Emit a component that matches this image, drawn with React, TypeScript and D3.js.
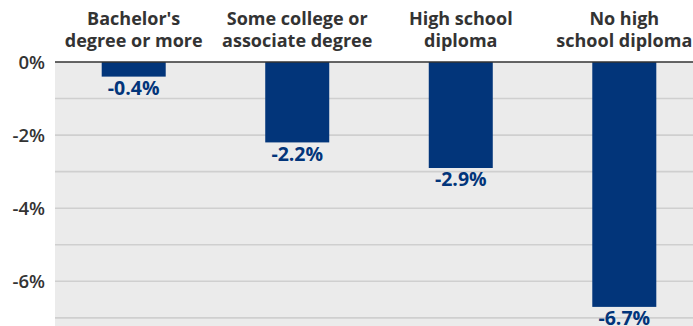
import React from "react";
import * as d3 from "d3";

const categories = [
  ["Bachelor's", "degree or more"],
  ["Some college or", "associate degree"],
  ["High school", "diploma"],
  ["No high", "school diploma"],
];
const values = [-0.4, -2.2, -2.9, -6.7];
const gridTicks = [0, -1, -2, -3, -4, -5, -6, -7];
const labeledTicks = [0, -2, -4, -6];

const W = 693;
const H = 326;
const FONT = "'Open Sans', 'Noto Sans', sans-serif";

export default function App() {
  const keys = categories.map((c) => c.join(" "));
  const x = d3
    .scaleBand<string>()
    .domain(keys)
    .range([55, 703])
    .paddingInner(0.6086)
    .paddingOuter(0.2856);
  const y = d3.scaleLinear().domain([0, -7]).range([62, 62 + 7 * 36.55]);
  const plotLeft = 55;

  return (
    <svg
      width={W}
      height={H}
      style={{ position: "absolute", left: 0, top: 0, background: "#fff" }}
      fontFamily={FONT}
    >
      <rect x={plotLeft} y={y(0)} width={W - plotLeft} height={H - y(0)} fill="#ebebeb" />
      {gridTicks.filter((t) => t !== 0).map((t) => (
        <line key={t} x1={plotLeft} x2={W} y1={y(t)} y2={y(t)} stroke="#cfcfcf" strokeWidth={1.6} />
      ))}
      {labeledTicks.map((t) => (
        <text
          key={"l" + t}
          x={45}
          y={y(t)}
          dy="0.36em"
          textAnchor="end"
          fontSize={18.5}
          fontWeight={600}
          fill="#333"
        >
          {t === 0 ? "0%" : `${t}%`}
        </text>
      ))}
      {values.map((v, i) => {
        const k = keys[i];
        const bx = x(k)!;
        return (
          <g key={k}>
            <rect x={bx} y={y(0)} width={x.bandwidth()} height={y(v) - y(0)} fill="#02357a" />
            <text
              x={bx + x.bandwidth() / 2}
              y={y(v) + 18.5}
              textAnchor="middle"
              fontSize={19.5}
              fontWeight={700}
              fill="#02357a"
            >
              {`${v.toFixed(1)}%`}
            </text>
          </g>
        );
      })}
      {categories.map((c, i) => {
        const cx = x(keys[i])! + x.bandwidth() / 2;
        return (
          <g key={"c" + i}>
            <text x={cx} y={25} textAnchor="middle" fontSize={18} fontWeight={700} fill="#333">
              {c[0]}
            </text>
            <text x={cx} y={46.5} textAnchor="middle" fontSize={18} fontWeight={700} fill="#333">
              {c[1]}
            </text>
          </g>
        );
      })}
      <line x1={plotLeft} x2={W} y1={y(0)} y2={y(0)} stroke="#333" strokeWidth={1.5} />
    </svg>
  );
}
